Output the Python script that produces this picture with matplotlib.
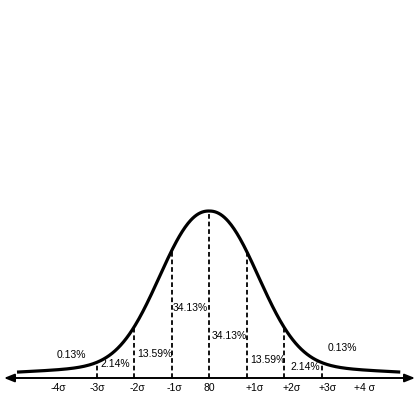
import numpy as np
import matplotlib
matplotlib.use("Agg")
import matplotlib.pyplot as plt

plt.rcParams['font.family'] = ['Liberation Sans', 'DejaVu Sans']

# axis labels along the baseline
tick_pos = [-4, -3, -2, -1, 0, 1, 2, 3, 4]
tick_labels = ["-4σ", "-3σ", "-2σ", "-1σ", "80", "+1σ", "+2σ", "+3σ", "+4 σ"]

# dashed sigma lines
line_pos = [-3, -2, -1, 0, 1, 2, 3]

# area percentages, left to right
pct_labels = ["0.13%", "2.14%", "13.59%", "34.13%", "34.13%", "13.59%", "2.14%", "0.13%"]


def bell(x):
    # bell shape (flat top, slightly heavy tails)
    core = 0.92 * np.exp(-0.298 * np.abs(x) ** 2.2)
    tail = 0.08 * np.exp(-x ** 2 / 32.0)
    return core + tail


PX = 37.5  # pixels per sigma
fig = plt.figure(figsize=(4.2, 4.2), dpi=100)
ax = fig.add_axes([0, 0, 1, 1])
ax.set_xlim(-209 / PX, 211 / PX)
ax.set_ylim(-42 / 167, 378 / 167)
ax.axis('off')

xs = np.linspace(-5.12, 5.1, 400)
ax.plot(xs, bell(xs), color='black', lw=2.3, solid_capstyle='butt')

for p in line_pos:
    ax.plot([p, p], [0, bell(p)], color='black', lw=1.3, ls=(0, (2.6, 1.6)))

ax.annotate('', xy=(415 / PX - 209 / PX, 0), xytext=(4 / PX - 209 / PX, 0),
            arrowprops=dict(arrowstyle='<|-|>,head_length=0.55,head_width=0.22',
                            color='black', lw=1.4, mutation_scale=11,
                            shrinkA=0, shrinkB=0))

# horizontal nudges of the tick labels, in pixels
tick_nudge = [-1, 1, 3, 3, 0, 8, 8, 6, 5]
for p, lab, dx in zip(tick_pos, tick_labels, tick_nudge):
    ax.text(p + dx / PX, -10 / 167, lab, ha='center', va='center', fontsize=7.5)

# left edge (pixels) and baseline height (pixels) of each percentage label
pct_x = [57, 100, 137, 173, 212, 250, 290, 328]
pct_y = [23, 14, 24, 70, 42, 18, 11, 30]
for lab, px, py in zip(pct_labels, pct_x, pct_y):
    ax.text((px - 209) / PX, py / 167, lab, ha='left', va='center', fontsize=7.5)

fig.savefig('out.png', dpi=100)
